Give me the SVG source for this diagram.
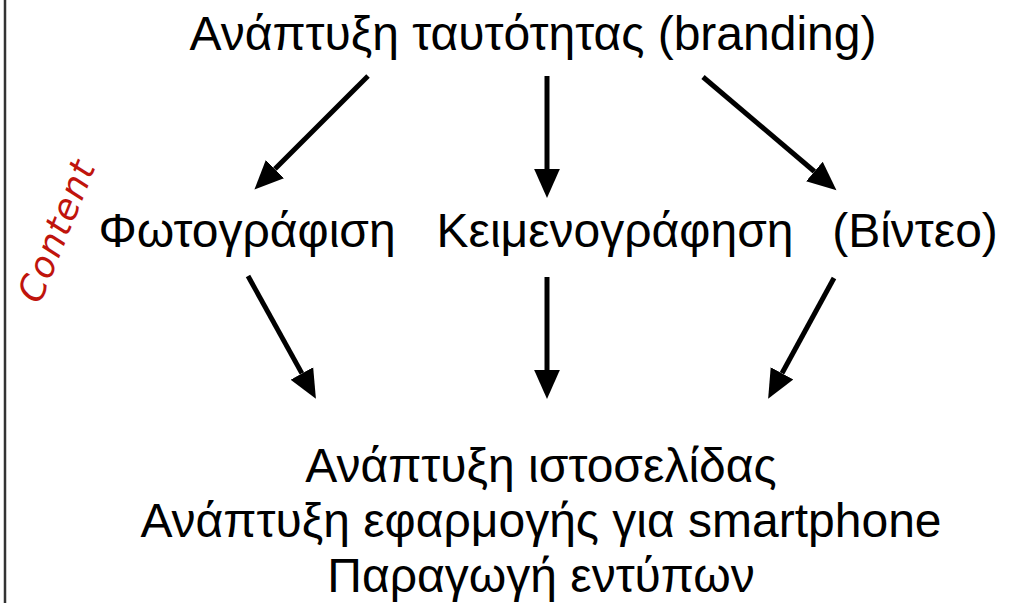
<svg xmlns="http://www.w3.org/2000/svg" width="1019" height="603" viewBox="0 0 1019 603">
<style>
.t{font-family:"Liberation Sans",Arial,sans-serif;font-size:48px;fill:#000;text-anchor:middle}
.c{stroke:#000;stroke-width:5;fill:none}
.lab{font-family:"DejaVu Sans",sans-serif;font-style:oblique;font-size:36px;fill:#c0140c;text-anchor:middle;letter-spacing:1px}
</style>
<defs>
<marker id="ah" markerUnits="userSpaceOnUse" markerWidth="30" markerHeight="30" viewBox="0 -13 28 26" refX="0" refY="0" orient="auto">
<path d="M0,-12 L27,0 L0,12 z" fill="#000"/>
</marker>
</defs>
<rect width="1019" height="603" fill="#fff"/>
<line x1="5" y1="0" x2="5" y2="603" stroke="#333" stroke-width="2.5"/>
<g id="label-content"><text class="lab" transform="translate(57,231) rotate(-68)" dy="12">Content</text></g>
<g id="n-branding"><text class="t" x="533" y="50">Ανάπτυξη ταυτότητας (branding)</text></g>
<g id="n-photo"><text class="t" x="247" y="247">Φωτογράφιση</text></g>
<g id="n-text"><text class="t" x="615" y="247">Κειμενογράφηση</text></g>
<g id="n-video"><text class="t" x="915" y="247">(Βίντεο)</text></g>
<g id="n-output"><text class="t" x="541" y="482">Ανάπτυξη ιστοσελίδας</text><text class="t" x="541" y="537">Ανάπτυξη εφαρμογής για smartphone</text><text class="t" x="541" y="592">Παραγωγή εντύπων</text></g>
<g id="connectors">
<line class="c" x1="368" y1="76" x2="274.9" y2="169.1" marker-end="url(#ah)"/>
<line class="c" x1="547" y1="76" x2="547" y2="169" marker-end="url(#ah)"/>
<line class="c" x1="703" y1="77" x2="814.4" y2="171.5" marker-end="url(#ah)"/>
<line class="c" x1="248" y1="276" x2="301.9" y2="373.4" marker-end="url(#ah)"/>
<line class="c" x1="547" y1="277" x2="547" y2="370" marker-end="url(#ah)"/>
<line class="c" x1="834" y1="278" x2="782" y2="373.3" marker-end="url(#ah)"/>
</g>
</svg>
